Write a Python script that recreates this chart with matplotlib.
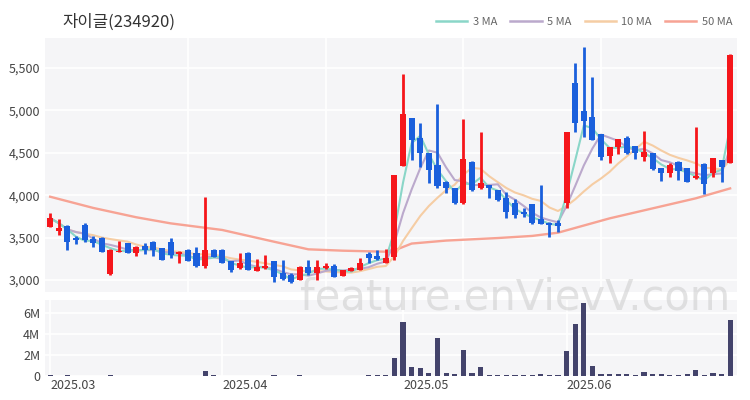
import numpy as np
import pandas as pd
import matplotlib
matplotlib.use('Agg')
import matplotlib.pyplot as plt
import matplotlib.transforms as mtransforms

plt.rcParams['font.family'] = ['Noto Sans CJK KR', 'DejaVu Sans']

title = '자이글(234920)'
month_labels = ['2025.03', '2025.04', '2025.05', '2025.06']
month_idx = [0, 20, 41, 60]

opens = [3625, 3573, 3640, 3500, 3654, 3480, 3500, 3071, 3330, 3433,
         3322, 3400, 3452, 3373, 3452, 3306, 3354, 3314, 3165, 3354,
         3354, 3228, 3138, 3322, 3110, 3138, 3228, 3080, 3060, 3000,
         3157, 3080, 3138, 3165, 3048, 3110, 3118, 3306, 3283, 3200,
         3270, 4344, 4910, 4680, 4493, 4356, 4160, 4080, 3905, 4395,
         4080, 4120, 4060, 3963, 3904, 3806, 3896, 3716, 3676, 3676,
         3905, 5320, 4990, 4920, 4720, 4462, 4565, 4680, 4580, 4450,
         4493, 4320, 4265, 4395, 4320, 4200, 4370, 4260, 4415, 4383]
highs = [3790, 3716, 3645, 3520, 3670, 3520, 3505, 3360, 3460, 3440,
         3400, 3440, 3455, 3380, 3490, 3340, 3360, 3393, 3982, 3360,
         3360, 3230, 3322, 3325, 3248, 3295, 3230, 3236, 3080, 3165,
         3236, 3236, 3204, 3190, 3120, 3150, 3255, 3334, 3350, 3360,
         4240, 5425, 4915, 4848, 4500, 5075, 4165, 4090, 4895, 4400,
         4748, 4125, 4065, 4040, 3951, 3845, 3900, 4120, 3690, 3707,
         4750, 5555, 5745, 5390, 4725, 4570, 4665, 4700, 4585, 4760,
         4500, 4325, 4376, 4400, 4325, 4800, 4375, 4440, 4420, 5660]
lows = [3620, 3531, 3354, 3425, 3450, 3393, 3330, 3065, 3328, 3318,
        3287, 3306, 3283, 3235, 3255, 3204, 3225, 3150, 3138, 3270,
        3200, 3100, 3135, 3115, 3105, 3130, 2980, 3000, 2960, 2995,
        3060, 3000, 3135, 3035, 3045, 3105, 3115, 3204, 3240, 3195,
        3240, 4340, 4420, 4328, 4148, 4080, 4030, 3900, 3900, 4050,
        4075, 3963, 3930, 3727, 3727, 3747, 3660, 3655, 3511, 3570,
        3845, 4740, 4690, 4650, 4415, 4376, 4485, 4490, 4423, 4400,
        4300, 4170, 4210, 4180, 4155, 4195, 4014, 4220, 4160, 4375]
closes = [3730, 3610, 3452, 3470, 3472, 3440, 3334, 3354, 3345, 3318,
          3393, 3354, 3354, 3240, 3295, 3334, 3228, 3165, 3354, 3275,
          3204, 3118, 3197, 3118, 3150, 3165, 3032, 3008, 2980, 3157,
          3080, 3157, 3165, 3040, 3118, 3138, 3204, 3255, 3244, 3255,
          4238, 4957, 4650, 4493, 4297, 4108, 4090, 3905, 4424, 4056,
          4140, 4080, 3943, 3806, 3766, 3778, 3676, 3660, 3650, 3637,
          4748, 4850, 4870, 4650, 4455, 4565, 4660, 4493, 4493, 4515,
          4306, 4265, 4356, 4290, 4160, 4226, 4132, 4435, 4328, 5653]
# volume in millions
volumes = [0.05, 0.04, 0.05, 0.03, 0.04, 0.03, 0.04, 0.06, 0.03, 0.03,
           0.03, 0.03, 0.03, 0.04, 0.03, 0.03, 0.03, 0.04, 0.49, 0.05,
           0.04, 0.04, 0.03, 0.03, 0.03, 0.03, 0.05, 0.04, 0.04, 0.05,
           0.04, 0.04, 0.03, 0.04, 0.03, 0.03, 0.04, 0.06, 0.05, 0.06,
           1.69, 5.17, 0.88, 0.75, 0.33, 3.58, 0.26, 0.23, 2.50, 0.33,
           0.88, 0.10, 0.09, 0.12, 0.10, 0.08, 0.10, 0.23, 0.10, 0.12,
           2.37, 4.94, 6.93, 0.91, 0.23, 0.20, 0.18, 0.15, 0.12, 0.36,
           0.18, 0.15, 0.12, 0.12, 0.15, 0.59, 0.12, 0.25, 0.15, 5.37]
# 50 MA
ma50_idx = [0, 5, 10, 14, 20, 26, 30, 34, 39, 40, 42, 46, 52, 56, 59, 65, 70, 75, 79]
ma50_val = [3982, 3850, 3740, 3668, 3590, 3452, 3362, 3346, 3334, 3350,
            3430, 3465, 3495, 3520, 3558, 3727, 3845, 3963, 4080]

RED = '#f5161b'
BLUE = '#1a5fdc'
MA_COLORS = {'3 MA': '#8ad6c8', '5 MA': '#bba9cc', '10 MA': '#f5cda4', '50 MA': '#f7a394'}

df = pd.DataFrame({'o': opens, 'h': highs, 'l': lows, 'c': closes, 'v': volumes})
x = np.arange(len(df))

fig = plt.figure(figsize=(7.5, 4), dpi=100)
ax = fig.add_axes([0.06, 0.27, 0.9227, 0.635])
axv = fig.add_axes([0.06, 0.06, 0.9227, 0.19])

for a in (ax, axv):
    a.set_facecolor('#f5f5f7')
    for s in a.spines.values():
        s.set_visible(False)
    a.set_axisbelow(True)
    a.grid(True, color='white', linewidth=1.2)
    a.set_xlim(-0.6, 79.8)
    a.tick_params(length=0, labelsize=9, colors='#444444')

# moving averages
ax.plot(ma50_idx, ma50_val, color=MA_COLORS['50 MA'], lw=1.7, zorder=2)
for n, name in [(10, '10 MA'), (5, '5 MA'), (3, '3 MA')]:
    ma = df['c'].rolling(n, min_periods=1).mean()
    ax.plot(x, ma, color=MA_COLORS[name], lw=1.5, zorder=2)

# candles
up = df['c'] >= df['o']
colors = np.where(up, RED, BLUE)
body_lo = np.minimum(df['o'], df['c'])
body_h = np.maximum((df['c'] - df['o']).abs(), 12)
ax.vlines(x, df['l'], df['h'], colors=colors, lw=2, zorder=3)
ax.bar(x, body_h, bottom=body_lo, width=0.7, color=colors, zorder=4)

ax.set_ylim(2859, 5853)
ax.set_yticks([3000, 3500, 4000, 4500, 5000, 5500])
ax.yaxis.set_major_formatter(matplotlib.ticker.FuncFormatter(lambda v, p: f'{int(v):,}'))
ax.set_xticks([16, 32, 48, 64])
ax.set_xticklabels([])

# volume
axv.bar(x, df['v'], width=0.6, color='#43436b', zorder=3)
axv.set_ylim(0, 7.24)
axv.set_yticks([0, 2, 4, 6])
axv.set_yticklabels(['0', '2M', '4M', '6M'])
axv.set_xticks(month_idx)
axv.set_xticklabels(month_labels)
offset = mtransforms.ScaledTranslation(-5 / 100, 0, fig.dpi_scale_trans)
for lbl in axv.get_xticklabels():
    lbl.set_horizontalalignment('left')
    lbl.set_transform(lbl.get_transform() + offset)
axv.tick_params(axis='x', pad=2)

fig.text(0.083, 0.945, title, fontsize=12, color='#333333', va='center')

handles = [plt.Line2D([], [], color=c, lw=1.8) for c in MA_COLORS.values()]
fig.legend(handles, list(MA_COLORS.keys()), loc='center right', bbox_to_anchor=(0.99, 0.945),
           ncol=4, frameon=False, fontsize=8, handlelength=2.8, columnspacing=1.2,
           handletextpad=0.5, labelcolor='#666666')

fig.text(0.687, 0.255, 'feature.enVievV.com', fontsize=30, color='#cccccc', alpha=0.55,
         ha='center', va='center', family='DejaVu Sans', zorder=10)

fig.savefig('out.png', dpi=100)
